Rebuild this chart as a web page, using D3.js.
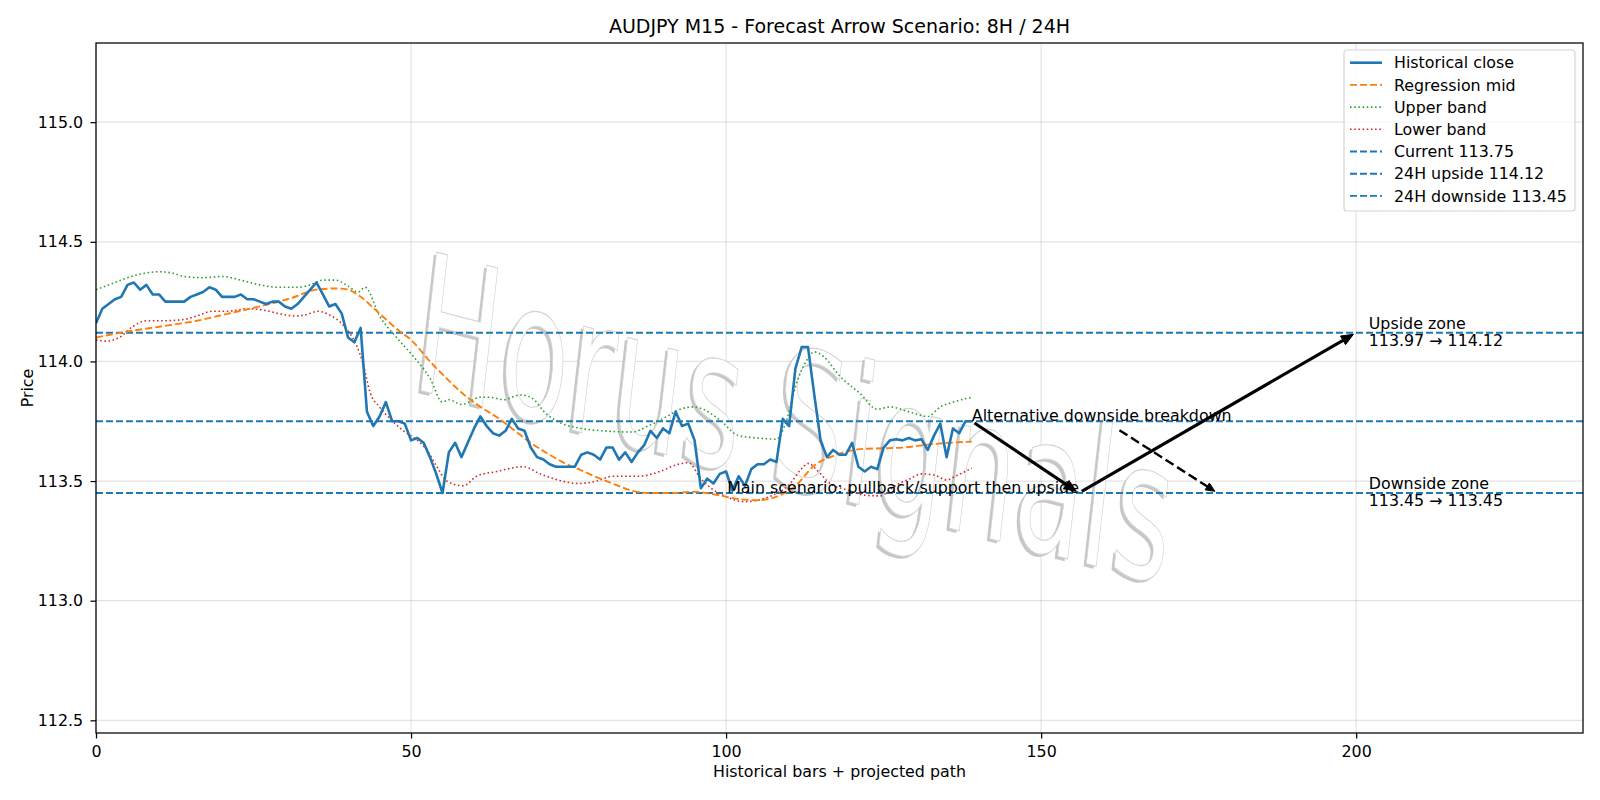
<!DOCTYPE html>
<html>
<head>
<meta charset="utf-8">
<script src="https://cdn.jsdelivr.net/npm/d3@7"></script>
<style>
body{margin:0;background:#fff}
</style>
</head>
<body>
<div id="graph"></div>
<script>
"use strict"
// historical closes, one per bar (0..139)
var closePrices=[114.16,114.22,114.24,114.26,114.27,114.32,114.33,114.30,114.32,114.28,
114.28,114.25,114.25,114.25,114.25,114.27,114.28,114.29,114.31,114.30,
114.27,114.27,114.27,114.28,114.26,114.26,114.25,114.24,114.25,114.25,
114.23,114.22,114.24,114.27,114.30,114.33,114.28,114.23,114.24,114.20,
114.10,114.08,114.14,113.79,113.73,113.77,113.83,113.75,113.75,113.74,
113.67,113.68,113.66,113.60,113.53,113.45,113.62,113.66,113.60,113.66,
113.72,113.77,113.73,113.70,113.69,113.71,113.76,113.72,113.71,113.64,
113.60,113.59,113.57,113.56,113.56,113.56,113.56,113.61,113.62,113.61,
113.59,113.64,113.64,113.59,113.62,113.58,113.62,113.65,113.71,113.68,
113.72,113.70,113.79,113.73,113.74,113.67,113.47,113.51,113.49,113.53,
113.54,113.46,113.52,113.48,113.55,113.57,113.57,113.59,113.58,113.76,
113.73,113.97,114.06,114.06,113.86,113.67,113.60,113.63,113.61,113.61,
113.66,113.56,113.54,113.56,113.55,113.64,113.67,113.675,113.67,113.68,
113.67,113.675,113.63,113.69,113.74,113.60,113.72,113.70,113.75,113.75]

// regression mid read at [bar, price]
var midPoints=[[0,114.10],[5,114.125],[10,114.145],[16,114.17],[21,114.20],[26,114.23],[31,114.265],[35,114.30],[38,114.305],[40,114.30],[42,114.27],[45,114.20],[48,114.13],[50,114.09],[53,114.00],[56,113.92],[58,113.87],[61,113.81],[64,113.76],[66,113.72],[69,113.66],[72,113.61],[74,113.58],[77,113.545],[80,113.51],[82,113.49],[85,113.46],[88,113.45],[91,113.45],[95,113.455],[98,113.445],[102,113.425],[105,113.42],[108,113.435],[111,113.48],[114,113.565],[117,113.605],[122,113.635],[125,113.637],[128,113.64],[133,113.655],[139,113.665]]

var upperPoints=[[0,114.30],[3,114.33],[5,114.35],[8,114.37],[10,114.375],[12,114.37],[14,114.355],[17,114.35],[20,114.355],[23,114.34],[26,114.32],[29,114.31],[32,114.31],[34,114.32],[36,114.34],[38,114.34],[40,114.315],[41.6,114.29],[42.7,114.31],[45,114.19],[47.7,114.10],[50.4,114.02],[53,113.93],[55,113.83],[56,113.84],[58,113.82],[61,113.85],[62.5,113.85],[64.7,113.84],[67.3,113.86],[69,113.85],[71.5,113.78],[74,113.74],[77,113.72],[80.5,113.71],[85,113.705],[88,113.735],[90.6,113.77],[92.7,113.80],[94.8,113.81],[96.4,113.80],[99,113.755],[102,113.69],[105,113.68],[108,113.675],[109.6,113.755],[111.2,113.91],[112.8,114.005],[114,114.04],[115.5,114.02],[118,113.94],[121.3,113.865],[124,113.80],[126,113.81],[129,113.79],[132,113.77],[134,113.81],[136,113.83],[139,113.85]]

var lowerPoints=[[0,114.09],[1.6,114.085],[3.7,114.10],[5.8,114.145],[8,114.17],[10.6,114.17],[13.8,114.175],[16,114.19],[18.5,114.21],[21,114.21],[24,114.22],[26.5,114.215],[29,114.20],[31.7,114.19],[33.3,114.195],[35.2,114.21],[37,114.195],[39.3,114.15],[41.3,114.07],[42.4,113.99],[43.5,113.87],[45,113.81],[46.7,113.76],[48.8,113.71],[51,113.67],[52.5,113.63],[54.1,113.56],[55.7,113.50],[58.3,113.48],[60.4,113.52],[63.6,113.54],[67.8,113.56],[70.5,113.53],[74,113.50],[76.5,113.49],[79.5,113.50],[82,113.52],[86,113.52],[89.5,113.54],[92,113.567],[94,113.577],[96,113.51],[98,113.463],[100,113.435],[102.8,113.414],[105,113.42],[107.5,113.442],[110.2,113.49],[111.8,113.546],[113.1,113.574],[114.4,113.546],[116.5,113.49],[119.2,113.463],[122.3,113.44],[124.5,113.438],[126.6,113.477],[129.2,113.51],[131,113.53],[133,113.525],[135,113.505],[136.6,113.523],[139,113.554]]

// current, 24H upside, 24H downside
var levels=[113.75,114.12,113.45]
var levelNames=['Current','24H upside','24H downside']

// projected paths (bar, price)
var mainPathX=[139,156,200]
var mainPathY=[113.75,113.45,114.12]
var altPathX=[162,178]
var altPathY=[113.72,113.45]

var zoneNames=['Upside zone','Downside zone']
var zoneLow=[113.97,113.45]
var zoneHigh=[114.12,113.45]
var zoneX=202

var xTicks=[0,50,100,150,200]
var yTicks=[112.5,113.0,113.5,114.0,114.5,115.0]

var seriesLabels=['Historical close','Regression mid','Upper band','Lower band']

var font='"DejaVu Sans", sans-serif'
var blue='#1f77b4',orange='#ff7f0e',green='#2ca02c',red='#d62728'
var fs=15.85

function shrinkSeg(x1,y1,x2,y2,a,b){
  var dx=x2-x1,dy=y2-y1,l=Math.sqrt(dx*dx+dy*dy)
  var ux=dx/l,uy=dy/l
  return [x1+ux*a,y1+uy*a,x2-ux*b,y2-uy*b,ux,uy]
}

// line with filled head, like matplotlib -|>
function drawArrow(g,x1,y1,x2,y2,w,dash,hl,hw){
  var s=shrinkSeg(x1,y1,x2,y2,3.2,3.2)
  var tx=s[2],ty=s[3],ux=s[4],uy=s[5]
  var bx=tx-ux*hl,by=ty-uy*hl
  var ln=g.append('line').attr('x1',s[0]).attr('y1',s[1]).attr('x2',bx+ux*1).attr('y2',by+uy*1)
    .attr('stroke','black').attr('stroke-width',w)
  if(dash) ln.attr('stroke-dasharray',dash)
  var p='M'+tx+' '+ty+' L'+(bx-uy*hw)+' '+(by+ux*hw)+' L'+(bx+uy*hw)+' '+(by-ux*hw)+' Z'
  g.append('path').attr('d',p).attr('fill','black').attr('stroke','black').attr('stroke-width',1)
}

function refresh(){
  var L=96,R=1583,T=43,B=733
  var svg=d3.select('#graph').append('svg').attr('width',1600).attr('height',800)
    .style('font-family',font)
  svg.append('rect').attr('width',1600).attr('height',800).attr('fill','white')

  var x=d3.scaleLinear().domain([0,236]).range([L,R])
  var y=d3.scaleLinear().domain([112.447,115.331]).range([B,T])

  svg.append('defs').append('clipPath').attr('id','plot')
    .append('rect').attr('x',L).attr('y',T).attr('width',R-L).attr('height',B-T)

  // grid
  var grid=svg.append('g').attr('stroke','#b0b0b0').attr('stroke-opacity',0.35).attr('stroke-width',1.2)
  xTicks.forEach(function(t){
    grid.append('line').attr('x1',x(t)).attr('x2',x(t)).attr('y1',T).attr('y2',B)
  })
  yTicks.forEach(function(t){
    grid.append('line').attr('x1',L).attr('x2',R).attr('y1',y(t)).attr('y2',y(t))
  })

  var plot=svg.append('g').attr('clip-path','url(#plot)')

  // watermark
  var wm=plot.append('g').attr('transform','translate(418,390) matrix(1,0.26,0,1.78,0,0)')
  wm.append('text').attr('x',-2.8).attr('y',1.8).text('Horus Signals')
    .attr('font-size',110).attr('font-style','italic').attr('font-family',font)
    .attr('fill','#bdbdbd').attr('fill-opacity',0.85)
  wm.append('text').attr('x',0).attr('y',0).text('Horus Signals')
    .attr('font-size',110).attr('font-style','italic').attr('font-family',font)
    .attr('fill','white').attr('stroke','#d3d3d3').attr('stroke-width',0.6)

  // horizontal levels
  levels.forEach(function(v){
    plot.append('line').attr('x1',L).attr('x2',R).attr('y1',y(v)).attr('y2',y(v))
      .attr('stroke',blue).attr('stroke-width',1.9).attr('stroke-dasharray','7,3')
  })

  var band=d3.line().x(function(d){return x(d[0])}).y(function(d){return y(d[1])}).curve(d3.curveMonotoneX)
  plot.append('path').attr('d',band(upperPoints)).attr('fill','none').attr('stroke',green)
    .attr('stroke-width',1.58).attr('stroke-dasharray','1.58,2.6')
  plot.append('path').attr('d',band(lowerPoints)).attr('fill','none').attr('stroke',red)
    .attr('stroke-width',1.58).attr('stroke-dasharray','1.58,2.6')
  plot.append('path').attr('d',band(midPoints)).attr('fill','none').attr('stroke',orange)
    .attr('stroke-width',1.9).attr('stroke-dasharray','7,3')

  var closeLine=d3.line().x(function(d,i){return x(i)}).y(function(d){return y(d)})
  plot.append('path').attr('d',closeLine(closePrices)).attr('fill','none').attr('stroke',blue)
    .attr('stroke-width',2.6).attr('stroke-linejoin','round')

  // projected arrows
  var ar=plot.append('g')
  for(var i=0;i<mainPathX.length-1;i++)
    drawArrow(ar,x(mainPathX[i]),y(mainPathY[i]),x(mainPathX[i+1]),y(mainPathY[i+1]),3.1,null,12,5)
  drawArrow(ar,x(altPathX[0]),y(altPathY[0]),x(altPathX[1]),y(altPathY[1]),2.4,'9.5,4.2',9,4)

  // annotations
  var ann=svg.append('g').attr('font-size',fs).attr('fill','black')
  ann.append('text').attr('x',x(mainPathX[0])).attr('y',y(mainPathY[0])).text('Alternative downside breakdown')
  ann.append('text').attr('x',x(mainPathX[1])).attr('y',y(mainPathY[1])).attr('text-anchor','end')
    .text('Main scenario: pullback/support then upside')
  for(i=0;i<zoneNames.length;i++){
    var zy=y(i==0?zoneHigh[i]:zoneLow[i])
    var zt=ann.append('text').attr('x',x(zoneX))
    zt.append('tspan').attr('x',x(zoneX)).attr('y',zy-3.8).text(zoneNames[i])
    zt.append('tspan').attr('x',x(zoneX)).attr('y',zy+13).text(zoneLow[i].toFixed(2)+' \u2192 '+zoneHigh[i].toFixed(2))
  }

  // frame
  svg.append('rect').attr('x',L).attr('y',T).attr('width',R-L).attr('height',B-T)
    .attr('fill','none').attr('stroke','black').attr('stroke-width',1.25)

  // axes
  var ax=svg.append('g').attr('transform','translate(0,'+B+')')
    .call(d3.axisBottom(x).tickValues(xTicks).tickSize(5.5).tickPadding(6.8).tickFormat(d3.format('d')))
  var ay=svg.append('g').attr('transform','translate('+L+',0)')
    .call(d3.axisLeft(y).tickValues(yTicks).tickSize(5.5).tickPadding(7.4).tickFormat(d3.format('.1f')))
  ;[ax,ay].forEach(function(a){
    a.select('.domain').remove()
    a.selectAll('line').attr('stroke','black').attr('stroke-width',1.25)
    a.selectAll('text').attr('font-family',font).attr('font-size',fs).attr('fill','black')
  })

  // titles
  svg.append('text').attr('x',(L+R)/2).attr('y',33).attr('text-anchor','middle').attr('font-size',19)
    .text('AUDJPY M15 - Forecast Arrow Scenario: 8H / 24H')
  svg.append('text').attr('x',(L+R)/2).attr('y',777).attr('text-anchor','middle').attr('font-size',fs)
    .text('Historical bars + projected path')
  svg.append('text').attr('transform','translate(32.5,'+((T+B)/2)+') rotate(-90)').attr('text-anchor','middle')
    .attr('font-size',fs).text('Price')

  // legend
  var lg=svg.append('g')
  lg.append('rect').attr('x',1344).attr('y',50).attr('width',231).attr('height',161).attr('rx',3)
    .attr('fill','white').attr('fill-opacity',0.8).attr('stroke','#d6d6d6').attr('stroke-width',1.2)
  var labels=seriesLabels.concat(levelNames.map(function(n,k){return n+' '+levels[k].toFixed(2)}))
  var colors=[blue,orange,green,red,blue,blue,blue]
  var widths=[2.6,1.9,1.58,1.58,1.9,1.9,1.9]
  var dashes=[null,'7,3','1.58,2.6','1.58,2.6','7,3','7,3','7,3']
  for(i=0;i<labels.length;i++){
    var ry=62.7+i*22.2
    var hl=lg.append('line').attr('x1',1350).attr('x2',1382).attr('y1',ry).attr('y2',ry)
      .attr('stroke',colors[i]).attr('stroke-width',widths[i])
    if(dashes[i]) hl.attr('stroke-dasharray',dashes[i])
    lg.append('text').attr('x',1394).attr('y',ry+5.7).attr('font-size',fs).text(labels[i])
  }
}

refresh()
</script>
</body>
</html>
